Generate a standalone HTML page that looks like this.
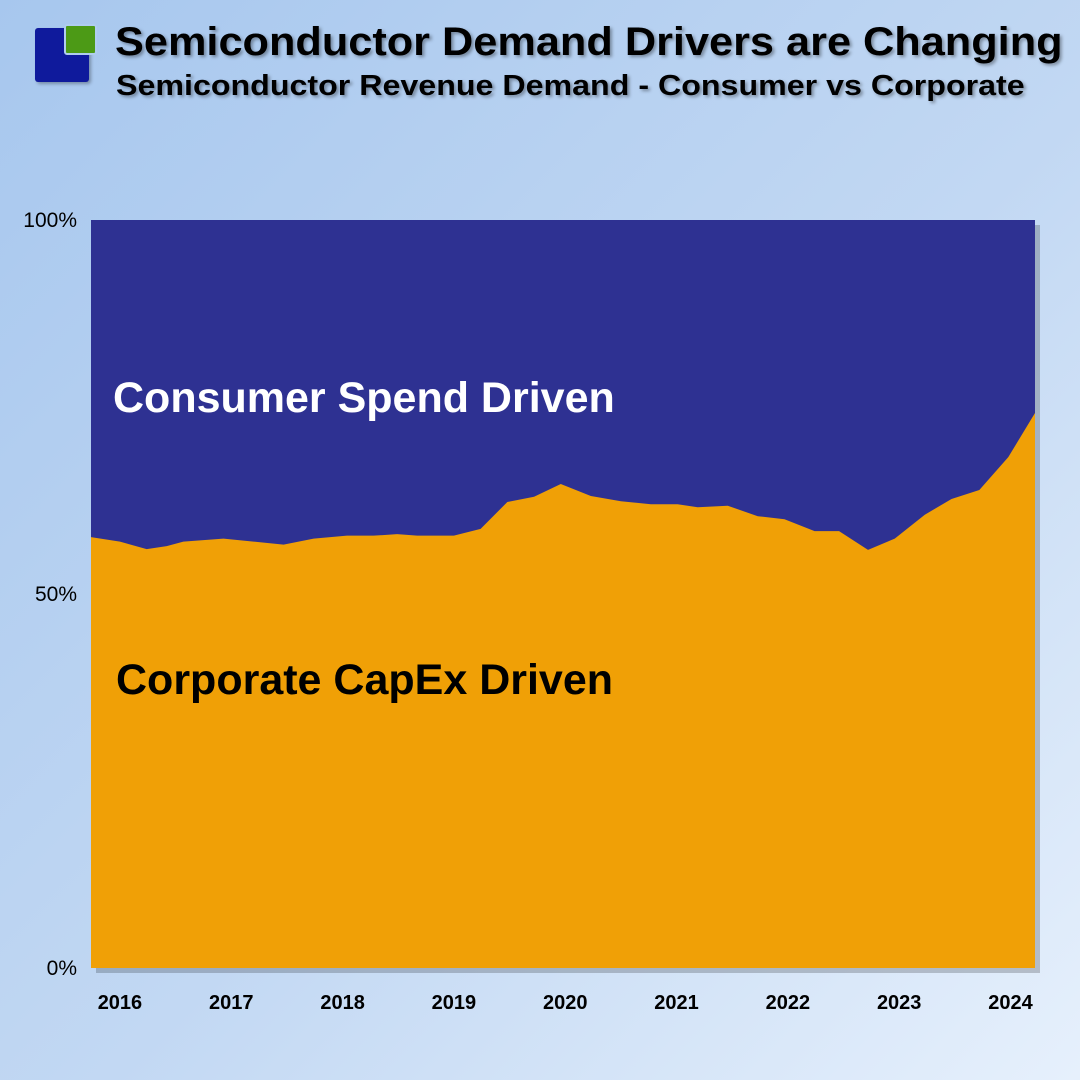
<!DOCTYPE html>
<html><head><meta charset="utf-8"><style>
html,body{margin:0;padding:0}
body{width:1080px;height:1080px;overflow:hidden;background:linear-gradient(135deg,#a7c7ee 0%,#c2d8f3 55%,#e6f0fc 100%);font-family:"Liberation Sans",sans-serif;position:relative}
.t{position:absolute;font-weight:bold;color:#000;text-shadow:2px 2px 3px rgba(0,0,0,.35);white-space:nowrap;transform-origin:0 0}
</style></head><body>
<div style="position:absolute;left:35px;top:28px;width:54px;height:54px;background:#0f1a9c;border-radius:3px;box-shadow:2px 2px 3px rgba(0,0,0,.3)"></div>
<div style="position:absolute;left:64px;top:24px;width:29px;height:27px;background:#4c9a16;border-radius:3px;border:2px solid #b0cdef"></div>
<div class="t" style="left:115px;top:20px;font-size:40px;transform:scaleX(1.082)">Semiconductor Demand Drivers are Changing</div>
<div class="t" style="left:116px;top:70px;font-size:29px;transform:scaleX(1.11)">Semiconductor Revenue Demand - Consumer vs Corporate</div>
<svg id="chart" width="1080" height="1080" style="position:absolute;left:0;top:0"></svg>
<script>
const years=[2015.74,2016.0,2016.24,2016.42,2016.57,2016.75,2016.93,2017.2,2017.47,2017.74,2018.04,2018.28,2018.49,2018.67,2019.0,2019.24,2019.48,2019.72,2019.96,2020.23,2020.5,2020.77,2021.01,2021.19,2021.46,2021.73,2021.97,2022.24,2022.46,2022.72,2022.96,2023.23,2023.47,2023.72,2023.98,2024.22];
const corporatePct=[57.6,57.0,56.0,56.4,57.0,57.2,57.4,57.0,56.6,57.4,57.8,57.8,58.0,57.8,57.8,58.7,62.3,63.0,64.7,63.1,62.4,62.0,62.0,61.6,61.8,60.4,60.0,58.4,58.4,55.9,57.4,60.6,62.7,63.9,68.3,74.2];
const xTicks=[2016,2017,2018,2019,2020,2021,2022,2023,2024];
const yTicks=[0,50,100];
const NS="http://www.w3.org/2000/svg";
const svg=document.getElementById('chart');
const L=91,R=1035,T=220,B=968;
const x0=years[0],x1=years[years.length-1];
const X=v=>L+(v-x0)/(x1-x0)*(R-L);
const Y=v=>B-v/100*(B-T);
function mk(t,a){const e=document.createElementNS(NS,t);for(const k in a)e.setAttribute(k,a[k]);svg.appendChild(e);return e;}
const sh=mk('rect',{x:L+5,y:T+5,width:R-L,height:B-T,fill:'rgba(0,0,0,0.2)'});


const bg=mk('rect',{x:L,y:T,width:R-L,height:B-T,fill:'#2e3192'});


let d='M'+X(years[0])+','+B;
years.forEach((yr,i)=>{d+=' L'+X(yr)+','+Y(corporatePct[i]);});
d+=' L'+X(years[years.length-1])+','+B+' Z';
const ar=mk('path',{d:d,fill:'#f0a006'});


yTicks.forEach(v=>{const t=mk('text',{x:77,y:Y(v)+7,'text-anchor':'end','font-size':21,fill:'#000','font-family':'Liberation Sans, sans-serif'});t.textContent=v+'%';

});
xTicks.forEach(v=>{const t=mk('text',{x:X(v),y:1009,'text-anchor':'middle','font-size':20,'font-weight':'bold',fill:'#000','font-family':'Liberation Sans, sans-serif'});t.textContent=v;

});
const c=mk('text',{x:113,y:412,'font-size':43,'font-weight':'bold',fill:'#fff','font-family':'Liberation Sans, sans-serif'});c.textContent='Consumer Spend Driven';


const p=mk('text',{x:116,y:694,'font-size':43,'font-weight':'bold',fill:'#000','font-family':'Liberation Sans, sans-serif'});p.textContent='Corporate CapEx Driven';


</script>
</body></html>
